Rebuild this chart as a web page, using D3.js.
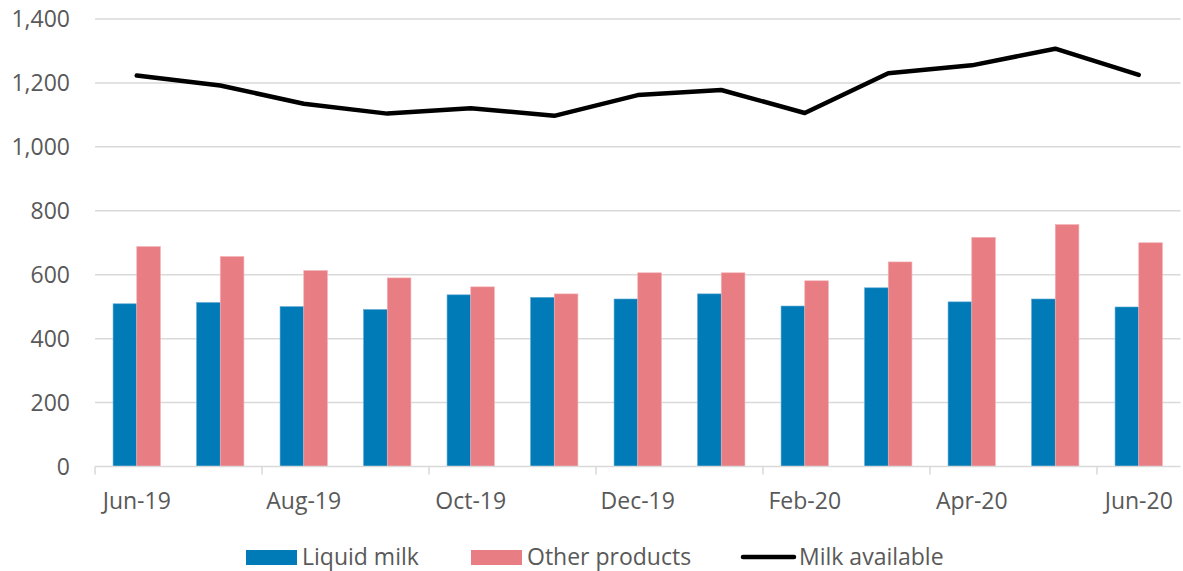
<!DOCTYPE html>
<html lang="en">
<head>
    <meta charset="UTF-8">
    <title>Milk utilisation</title>
    <script src="https://d3js.org/d3.v7.min.js"></script>
    <style>
        body { margin: 0; background: #fff; }
        svg { display: block; font-family: "Open Sans", sans-serif; }
        .tick-label { fill: #595959; font-size: 23px; }
    </style>
</head>
<body>
    <svg id="chart" width="1183" height="571"></svg>

    <script>
        // data
        const months = ["Jun-19", "Jul-19", "Aug-19", "Sep-19", "Oct-19", "Nov-19", "Dec-19",
                        "Jan-20", "Feb-20", "Mar-20", "Apr-20", "May-20", "Jun-20"];
        const liquidMilk = [509, 513, 500, 491, 537, 529, 524, 540, 502, 559, 515, 524, 499];
        const otherProducts = [688, 657, 613, 590, 562, 540, 606, 606, 581, 640, 717, 757, 700];
        const milkAvailable = [1223, 1192, 1135, 1104, 1121, 1097, 1162, 1178, 1106, 1230, 1255, 1307, 1225];
        const yTicks = [0, 200, 400, 600, 800, 1000, 1200, 1400];
        const seriesNames = ["Liquid milk", "Other products", "Milk available"];

        const colors = { liquid: "#007bb8", other: "#e87e83", line: "#000" };

        const svg = d3.select("#chart");
        const plot = { left: 95, right: 1180.5, top: 19, bottom: 466.5 };

        const x = d3.scaleBand()
            .domain(months)
            .range([plot.left, plot.right])
            .paddingInner(0.433)
            .paddingOuter(0.2165);

        const xSub = d3.scaleBand()
            .domain(["liquid", "other"])
            .range([0, x.bandwidth()]);

        const y = d3.scaleLinear().domain([0, 1400]).range([plot.bottom, plot.top]);

        // gridlines
        svg.append("g")
            .selectAll("line")
            .data(yTicks.filter(d => d > 0))
            .join("line")
            .attr("x1", plot.left)
            .attr("x2", plot.right)
            .attr("y1", d => y(d))
            .attr("y2", d => y(d))
            .attr("stroke", "#d9d9d9")
            .attr("stroke-width", 1.5);

        // y labels
        svg.append("g")
            .selectAll("text")
            .data(yTicks)
            .join("text")
            .attr("class", "tick-label")
            .attr("x", 70)
            .attr("y", d => y(d))
            .attr("dy", "0.36em")
            .attr("text-anchor", "end")
            .text(d => d3.format(",")(d));

        // bars
        const groups = svg.append("g")
            .selectAll("g")
            .data(months)
            .join("g")
            .attr("transform", d => `translate(${x(d)},0)`);

        groups.append("rect")
            .attr("x", xSub("liquid"))
            .attr("width", xSub.bandwidth())
            .attr("y", (d, i) => y(liquidMilk[i]))
            .attr("height", (d, i) => plot.bottom - y(liquidMilk[i]))
            .attr("fill", colors.liquid)
            .attr("stroke", "#5aa6d0")
            .attr("stroke-width", 0.6);

        groups.append("rect")
            .attr("x", xSub("other"))
            .attr("width", xSub.bandwidth())
            .attr("y", (d, i) => y(otherProducts[i]))
            .attr("height", (d, i) => plot.bottom - y(otherProducts[i]))
            .attr("fill", colors.other)
            .attr("stroke", "#f2b3b6")
            .attr("stroke-width", 0.6);

        // x axis line + ticks every two months
        svg.append("line")
            .attr("x1", plot.left).attr("x2", plot.right)
            .attr("y1", plot.bottom).attr("y2", plot.bottom)
            .attr("stroke", "#d9d9d9")
            .attr("stroke-width", 1.5);

        const tickX = d => x(d) - x.step() * x.paddingOuter();

        svg.append("g")
            .selectAll("line")
            .data(months.filter((d, i) => i % 2 === 0))
            .join("line")
            .attr("x1", tickX)
            .attr("x2", tickX)
            .attr("y1", plot.bottom)
            .attr("y2", plot.bottom + 8)
            .attr("stroke", "#d9d9d9")
            .attr("stroke-width", 1.5);

        svg.append("g")
            .selectAll("text")
            .data(months.filter((d, i) => i % 2 === 0))
            .join("text")
            .attr("class", "tick-label")
            .attr("x", d => x(d) + x.bandwidth() / 2)
            .attr("y", 509)
            .attr("text-anchor", "middle")
            .text(d => d);

        // milk available line
        const line = d3.line()
            .x((d, i) => x(months[i]) + x.bandwidth() / 2)
            .y(d => y(d));

        svg.append("path")
            .datum(milkAvailable)
            .attr("d", line)
            .attr("fill", "none")
            .attr("stroke", colors.line)
            .attr("stroke-width", 4.5)
            .attr("stroke-linecap", "round")
            .attr("stroke-linejoin", "round");

        // legend
        const legend = svg.append("g");
        legend.append("rect")
            .attr("x", 246).attr("y", 550).attr("width", 51).attr("height", 15)
            .attr("fill", colors.liquid);
        legend.append("text").attr("class", "tick-label")
            .attr("x", 302).attr("y", 565).text(seriesNames[0]);

        legend.append("rect")
            .attr("x", 471).attr("y", 550).attr("width", 51).attr("height", 15)
            .attr("fill", colors.other);
        legend.append("text").attr("class", "tick-label")
            .attr("x", 527).attr("y", 565).text(seriesNames[1]);

        legend.append("line")
            .attr("x1", 743).attr("x2", 794).attr("y1", 557).attr("y2", 557)
            .attr("stroke", colors.line)
            .attr("stroke-width", 4.5)
            .attr("stroke-linecap", "round");
        legend.append("text").attr("class", "tick-label")
            .attr("x", 799).attr("y", 565).text(seriesNames[2]);
    </script>
</body>
</html>
